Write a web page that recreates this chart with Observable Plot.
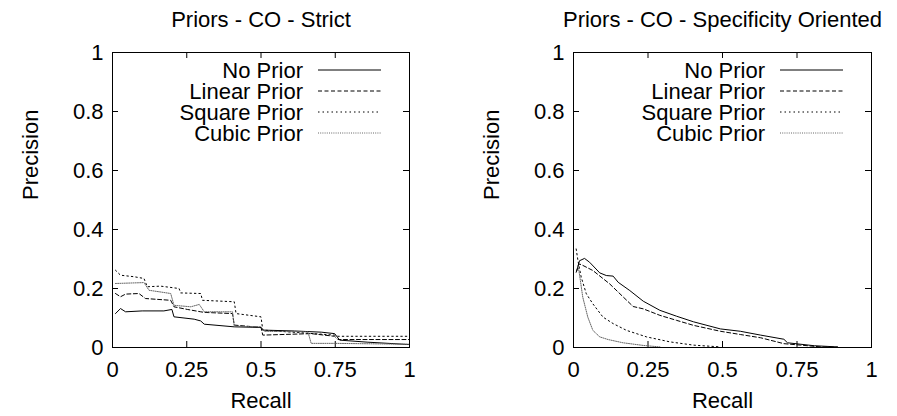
<!DOCTYPE html>
<html><head><meta charset="utf-8">
<script src="https://cdn.jsdelivr.net/npm/d3@7"></script>
<script src="https://cdn.jsdelivr.net/npm/@observablehq/plot@0.6"></script>
<style>
body{margin:0;background:#fff}
#wrap{display:flex;width:897px;height:416px}
</style>
</head><body><div id="wrap"></div>
<script>
const seriesNames = ["No Prior", "Linear Prior", "Square Prior", "Cubic Prior"];
const xTicks = [0, 0.25, 0.5, 0.75, 1];
const yTicks = [0, 0.2, 0.4, 0.6, 0.8, 1];
const titles = ["Priors - CO - Strict", "Priors - CO - Specificity Oriented"];

// Strict: [recall, precision]
const strictNoPrior = [[0.01,0.115],[0.027,0.132],[0.044,0.121],[0.1,0.124],[0.173,0.124],[0.2,0.129],[0.207,0.104],[0.275,0.096],[0.297,0.09],[0.309,0.079],[0.41,0.07],[0.5,0.068],[0.506,0.059],[0.613,0.056],[0.703,0.052],[0.748,0.047],[0.765,0.025],[0.86,0.018],[1.0,0.01]];
const strictLinear = [[0.01,0.183],[0.027,0.172],[0.044,0.181],[0.089,0.183],[0.111,0.166],[0.196,0.16],[0.207,0.138],[0.252,0.129],[0.297,0.121],[0.309,0.119],[0.404,0.115],[0.41,0.076],[0.5,0.068],[0.506,0.042],[0.669,0.047],[0.748,0.038],[0.759,0.027],[1.0,0.027]];
const strictSquare = [[0.01,0.262],[0.027,0.245],[0.072,0.24],[0.106,0.234],[0.117,0.206],[0.162,0.208],[0.224,0.2],[0.23,0.185],[0.297,0.183],[0.303,0.16],[0.41,0.155],[0.416,0.115],[0.5,0.104],[0.506,0.059],[0.748,0.042],[0.759,0.038],[1.0,0.038]];
const strictCubic = [[0.01,0.217],[0.106,0.22],[0.123,0.194],[0.196,0.183],[0.207,0.143],[0.264,0.138],[0.292,0.146],[0.309,0.121],[0.404,0.121],[0.41,0.072],[0.5,0.07],[0.511,0.055],[0.658,0.053],[0.669,0.014],[0.748,0.014],[1.0,0.011]];

// Specificity Oriented
const specNoPrior = [[0.011,0.26],[0.02,0.294],[0.037,0.302],[0.054,0.289],[0.088,0.253],[0.11,0.244],[0.133,0.242],[0.15,0.221],[0.189,0.193],[0.234,0.157],[0.29,0.126],[0.346,0.106],[0.403,0.087],[0.493,0.063],[0.56,0.055],[0.628,0.042],[0.706,0.028],[0.718,0.016],[0.763,0.011],[0.808,0.006],[0.886,0.002]];
const specLinear = [[0.009,0.255],[0.018,0.283],[0.026,0.281],[0.065,0.261],[0.121,0.216],[0.2,0.139],[0.234,0.131],[0.29,0.109],[0.346,0.092],[0.403,0.075],[0.493,0.055],[0.56,0.044],[0.628,0.033],[0.706,0.013],[0.763,0.008],[0.83,0.002],[0.886,0.001]];
const specSquare = [[0.009,0.334],[0.015,0.294],[0.026,0.238],[0.043,0.182],[0.065,0.148],[0.099,0.103],[0.133,0.081],[0.178,0.058],[0.245,0.036],[0.324,0.019],[0.403,0.008],[0.493,0.002]];
const specCubic = [[0.015,0.277],[0.02,0.249],[0.031,0.171],[0.048,0.103],[0.065,0.058],[0.088,0.036],[0.116,0.027],[0.166,0.016],[0.234,0.007],[0.29,0.002]];

const dash = {"No Prior": null, "Linear Prior": "4,2.5", "Square Prior": "1.5,3", "Cubic Prior": "1,1.2"};
const color = {"No Prior": "#000", "Linear Prior": "#000", "Square Prior": "#000", "Cubic Prior": "#666"};

const H = 416, MT = 52, MB = 69;

function makePlot(title, seriesData, width, ml, mr) {
  const W = width - ml - mr, FH = H - MT - MB;
  const legend = (index, scales, values, dims) => {
    const g = d3.create("svg:g");
    const right = dims.width - dims.marginRight;
    seriesNames.forEach((s, i) => {
      const y = dims.marginTop + 18 + 21 * i;
      g.append("text").attr("x", right - 106).attr("y", y).attr("dy", "0.35em")
        .attr("text-anchor", "end").attr("fill", "#000").text(s);
      g.append("line").attr("x1", right - 91).attr("x2", right - 28).attr("y1", y).attr("y2", y)
        .attr("stroke", color[s]).attr("stroke-width", 1)
        .attr("stroke-dasharray", dash[s]);
    });
    return g.node();
  };
  return Plot.plot({
    width, height: H, marginLeft: ml, marginRight: mr, marginTop: MT, marginBottom: MB,
    style: {fontSize: "22px", fontFamily: "'Liberation Sans', Arial, Helvetica, sans-serif", background: "#fff", color: "#000"},
    x: {domain: [0, 1]},
    y: {domain: [0, 1]},
    marks: [
      Plot.axisX({ticks: xTicks, tickSize: 0, tickPadding: 14, tickFormat: d => String(d), label: null}),
      Plot.axisY({ticks: yTicks, tickSize: 0, tickPadding: 9, tickFormat: d => String(d), label: null}),
      Plot.tickX(xTicks, {x: d => d, insetTop: FH - 6, stroke: "#000"}),
      Plot.tickX(xTicks, {x: d => d, insetBottom: FH - 6, stroke: "#000"}),
      Plot.tickY(yTicks, {y: d => d, insetRight: W - 6, stroke: "#000"}),
      Plot.tickY(yTicks, {y: d => d, insetLeft: W - 6, stroke: "#000"}),
      ...seriesNames.map((s, i) => Plot.line(seriesData[i], {
        x: d => d[0], y: d => d[1], stroke: color[s], strokeWidth: 1,
        strokeDasharray: dash[s], clip: true
      })),
      Plot.frame({stroke: "#000"}),
      Plot.text([title], {frameAnchor: "top", lineAnchor: "middle", dy: -33, fill: "#000"}),
      Plot.text(["Recall"], {frameAnchor: "bottom", lineAnchor: "middle", dy: 53, fill: "#000"}),
      Plot.text(["Precision"], {frameAnchor: "left", lineAnchor: "middle", dx: -82, rotate: -90, fill: "#000"}),
      legend
    ]
  });
}

const wrap = document.getElementById("wrap");
wrap.append(makePlot(titles[0], [strictNoPrior, strictLinear, strictSquare, strictCubic], 448, 112, 39));
wrap.append(makePlot(titles[1], [specNoPrior, specLinear, specSquare, specCubic], 449, 125, 26));
</script>
</body></html>
